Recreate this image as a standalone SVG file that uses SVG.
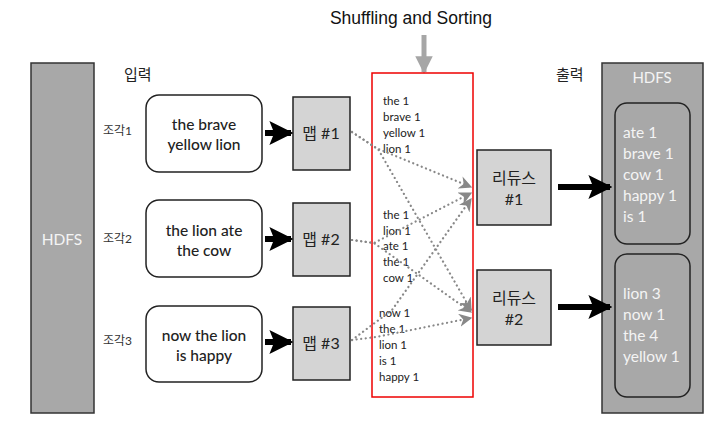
<svg xmlns="http://www.w3.org/2000/svg" width="725" height="428" viewBox="0 0 725 428">
<style>
.t{font-family:Lato,"Open Sans","Noto Sans","Noto Sans CJK KR",sans-serif;fill:#222}
.in{font-size:15.5px;text-anchor:middle;font-weight:500}
.lbl{font-size:12px;fill:#333}
.map{fill:#d4d4d4;stroke:#222;stroke-width:1.5}
.kv{font-size:11.5px}
.out{font-size:15.5px;fill:#f4f4f4}
.hd{fill:#a8a8a8;stroke:#333;stroke-width:1.5}
.big{stroke:#000;stroke-width:6;fill:none;marker-end:url(#bk)}
.dot{stroke:#888;stroke-width:2.2;stroke-dasharray:0.1 4.5;fill:none;stroke-linecap:round;marker-end:url(#gy)}
</style>
<defs>
<marker id="bk" viewBox="0 0 10 10" refX="9" refY="5" markerWidth="4" markerHeight="4" orient="auto" markerUnits="strokeWidth"><path d="M0,0 L10,5 L0,10 L2,5 z" fill="#000"/></marker>
<marker id="gy" viewBox="0 0 10 10" refX="9" refY="5" markerWidth="6" markerHeight="6" orient="auto" markerUnits="strokeWidth"><path d="M0,0 L10,5 L0,10 L3,5 z" fill="#888"/></marker>
<marker id="ga" viewBox="0 0 10 10" refX="9" refY="5" markerWidth="3.5" markerHeight="3.5" orient="auto" markerUnits="strokeWidth"><path d="M0,0 L10,5 L0,10 z" fill="#a6a6a6"/></marker>
</defs>
<rect width="725" height="428" fill="#fff"/>

<g id="hdfs-in">
<rect class="hd" x="31" y="63" width="63" height="350"/>
<text class="t" x="62" y="245" font-size="15.5" text-anchor="middle" style="fill:#f4f4f4">HDFS</text>
</g>
<text class="t" x="124" y="80" font-size="15">입력</text>
<text class="t" x="556" y="80" font-size="15">출력</text>

<g id="shuffle-title">
<text x="411" y="24" font-family="Liberation Sans,Arial,sans-serif" font-size="17.5" text-anchor="middle" fill="#111">Shuffling and Sorting</text>
<line x1="424" y1="35" x2="424" y2="72" stroke="#a6a6a6" stroke-width="5" marker-end="url(#ga)"/>
</g>

<g id="split1">
<text class="t lbl" x="103" y="135">조각1</text>
<rect x="146" y="95" width="116" height="77" rx="13" fill="#fff" stroke="#222" stroke-width="1.5"/>
<text class="t in" x="204" y="130">the brave</text>
<text class="t in" x="204" y="150">yellow lion</text>
</g>
<g id="split2">
<text class="t lbl" x="103" y="243">조각2</text>
<rect x="146" y="200" width="116" height="77" rx="13" fill="#fff" stroke="#222" stroke-width="1.5"/>
<text class="t in" x="204" y="236">the lion ate</text>
<text class="t in" x="204" y="256">the cow</text>
</g>
<g id="split3">
<text class="t lbl" x="103" y="345">조각3</text>
<rect x="146" y="306" width="116" height="76" rx="13" fill="#fff" stroke="#222" stroke-width="1.5"/>
<text class="t in" x="204" y="341">now the lion</text>
<text class="t in" x="204" y="361">is happy</text>
</g>

<g id="map1"><rect class="map" x="293" y="97" width="57" height="73"/><text class="t" x="321" y="139" font-size="16" text-anchor="middle">맵 #1</text></g>
<g id="map2"><rect class="map" x="293" y="203" width="57" height="73"/><text class="t" x="321" y="245" font-size="16" text-anchor="middle">맵 #2</text></g>
<g id="map3"><rect class="map" x="293" y="307" width="57" height="73"/><text class="t" x="321" y="349" font-size="16" text-anchor="middle">맵 #3</text></g>

<g id="shuffle">
<rect x="372" y="73" width="101" height="324" fill="none" stroke="#e00" stroke-width="1.5"/>
<g class="t kv">
<text x="383" y="105">the 1</text><text x="383" y="121">brave 1</text><text x="383" y="137">yellow 1</text><text x="383" y="153">lion 1</text>
<text x="383" y="219">the 1</text><text x="383" y="235">lion 1</text><text x="383" y="250">ate 1</text><text x="383" y="266">the 1</text><text x="383" y="282">cow 1</text>
<text x="379" y="317">now 1</text><text x="379" y="333">the 1</text><text x="379" y="349">lion 1</text><text x="379" y="365">is 1</text><text x="379" y="381">happy 1</text>
</g>
</g>

<g id="red1"><rect class="map" x="477" y="150" width="74" height="75"/><text class="t" x="514" y="184" font-size="16" text-anchor="middle">리듀스</text><text class="t" x="514" y="205" font-size="16" text-anchor="middle">#1</text></g>
<g id="red2"><rect class="map" x="477" y="270" width="74" height="75"/><text class="t" x="514" y="304" font-size="16" text-anchor="middle">리듀스</text><text class="t" x="514" y="325" font-size="16" text-anchor="middle">#2</text></g>

<g id="hdfs-out">
<rect class="hd" x="602" y="63" width="101" height="350"/>
<text class="t" x="652" y="83" font-size="15" text-anchor="middle" style="fill:#f4f4f4">HDFS</text>
<rect x="615" y="103" width="75" height="141" rx="12" fill="#a8a8a8" stroke="#222" stroke-width="1.5"/>
<g class="t out"><text x="623" y="138">ate 1</text><text x="623" y="159">brave 1</text><text x="623" y="180">cow 1</text><text x="623" y="201">happy 1</text><text x="623" y="222">is 1</text></g>
<rect x="615" y="254" width="75" height="143" rx="12" fill="#a8a8a8" stroke="#222" stroke-width="1.5"/>
<g class="t out"><text x="623" y="299">lion 3</text><text x="623" y="320">now 1</text><text x="623" y="341">the 4</text><text x="623" y="362">yellow 1</text></g>
</g>

<g id="connectors">
<line class="big" x1="265" y1="133" x2="291" y2="133"/>
<line class="big" x1="265" y1="239" x2="291" y2="239"/>
<line class="big" x1="265" y1="342" x2="291" y2="342"/>
<line class="big" x1="558" y1="187" x2="610" y2="187"/>
<line class="big" x1="558" y1="307" x2="610" y2="307"/>
<polyline class="dot" points="352,132 376,148 471,187"/>
<polyline class="dot" points="352,132 378,149 471,310"/>
<polyline class="dot" points="352,240 374,243 471,193"/>
<polyline class="dot" points="352,240 374,243 471,312"/>
<polyline class="dot" points="352,340 392,310 471,199"/>
<polyline class="dot" points="352,340 376,337 471,318"/>
</g>
</svg>
